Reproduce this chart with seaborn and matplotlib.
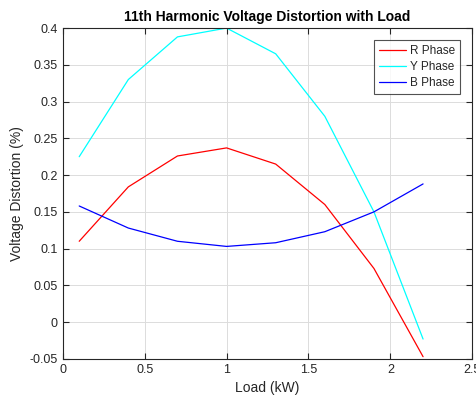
import matplotlib
matplotlib.use("Agg")
import matplotlib.pyplot as plt
import seaborn as sns
import pandas as pd

load_kw = [0.1, 0.4, 0.7, 1.0, 1.3, 1.6, 1.9, 2.2]
r_phase = [0.110, 0.184, 0.226, 0.237, 0.215, 0.160, 0.073, -0.047]
y_phase = [0.225, 0.330, 0.388, 0.400, 0.365, 0.280, 0.150, -0.023]
b_phase = [0.158, 0.128, 0.110, 0.103, 0.108, 0.123, 0.150, 0.188]
series_names = ["R Phase", "Y Phase", "B Phase"]
colors = ["#ff0000", "#00ffff", "#0000ff"]

df = pd.DataFrame({
    "Load": load_kw * 3,
    "Distortion": r_phase + y_phase + b_phase,
    "Phase": [series_names[0]] * 8 + [series_names[1]] * 8 + [series_names[2]] * 8,
})

sns.set_style("whitegrid")
plt.rcParams["font.family"] = ["Liberation Sans", "DejaVu Sans"]

fig = plt.figure(figsize=(4.76, 4.01), dpi=100)
ax = fig.add_axes([0.132, 0.105, 0.860, 0.825])
sns.lineplot(data=df, x="Load", y="Distortion", hue="Phase",
             palette=dict(zip(series_names, colors)), linewidth=0.9, ax=ax,
             legend=True)

ax.set_xlim(0, 2.5)
ax.set_ylim(-0.05, 0.4)
ax.set_xticks([0, 0.5, 1, 1.5, 2, 2.5])
ax.set_xticklabels(["0", "0.5", "1", "1.5", "2", "2.5"])
yt = [-0.05, 0, 0.05, 0.1, 0.15, 0.2, 0.25, 0.3, 0.35, 0.4]
ax.set_yticks(yt)
ax.set_yticklabels(["-0.05", "0", "0.05", "0.1", "0.15", "0.2", "0.25", "0.3", "0.35", "0.4"])
ax.grid(True, color="#dcdcdc", linewidth=0.7)
for s in ax.spines.values():
    s.set_color("#262626")
    s.set_linewidth(0.8)
ax.tick_params(direction="in", length=4, color="#262626", labelcolor="#262626",
               labelsize=9, top=True, right=True, bottom=True, left=True)
ax.set_xlabel("Load (kW)", fontsize=10, color="#262626")
ax.set_ylabel("Voltage Distortion (%)", fontsize=10, color="#262626")
ax.set_title("11th Harmonic Voltage Distortion with Load", fontsize=10,
             fontweight="bold", color="black", pad=5)

leg = ax.legend(loc="upper right", bbox_to_anchor=(0.971, 0.964), fontsize=8.5,
                frameon=True, fancybox=False, edgecolor="#262626",
                handlelength=2.3, borderpad=0.4, labelspacing=0.35,
                handletextpad=0.4, borderaxespad=0)
leg.get_frame().set_linewidth(0.8)
leg.set_title(None)

fig.savefig("out.png", dpi=100)
